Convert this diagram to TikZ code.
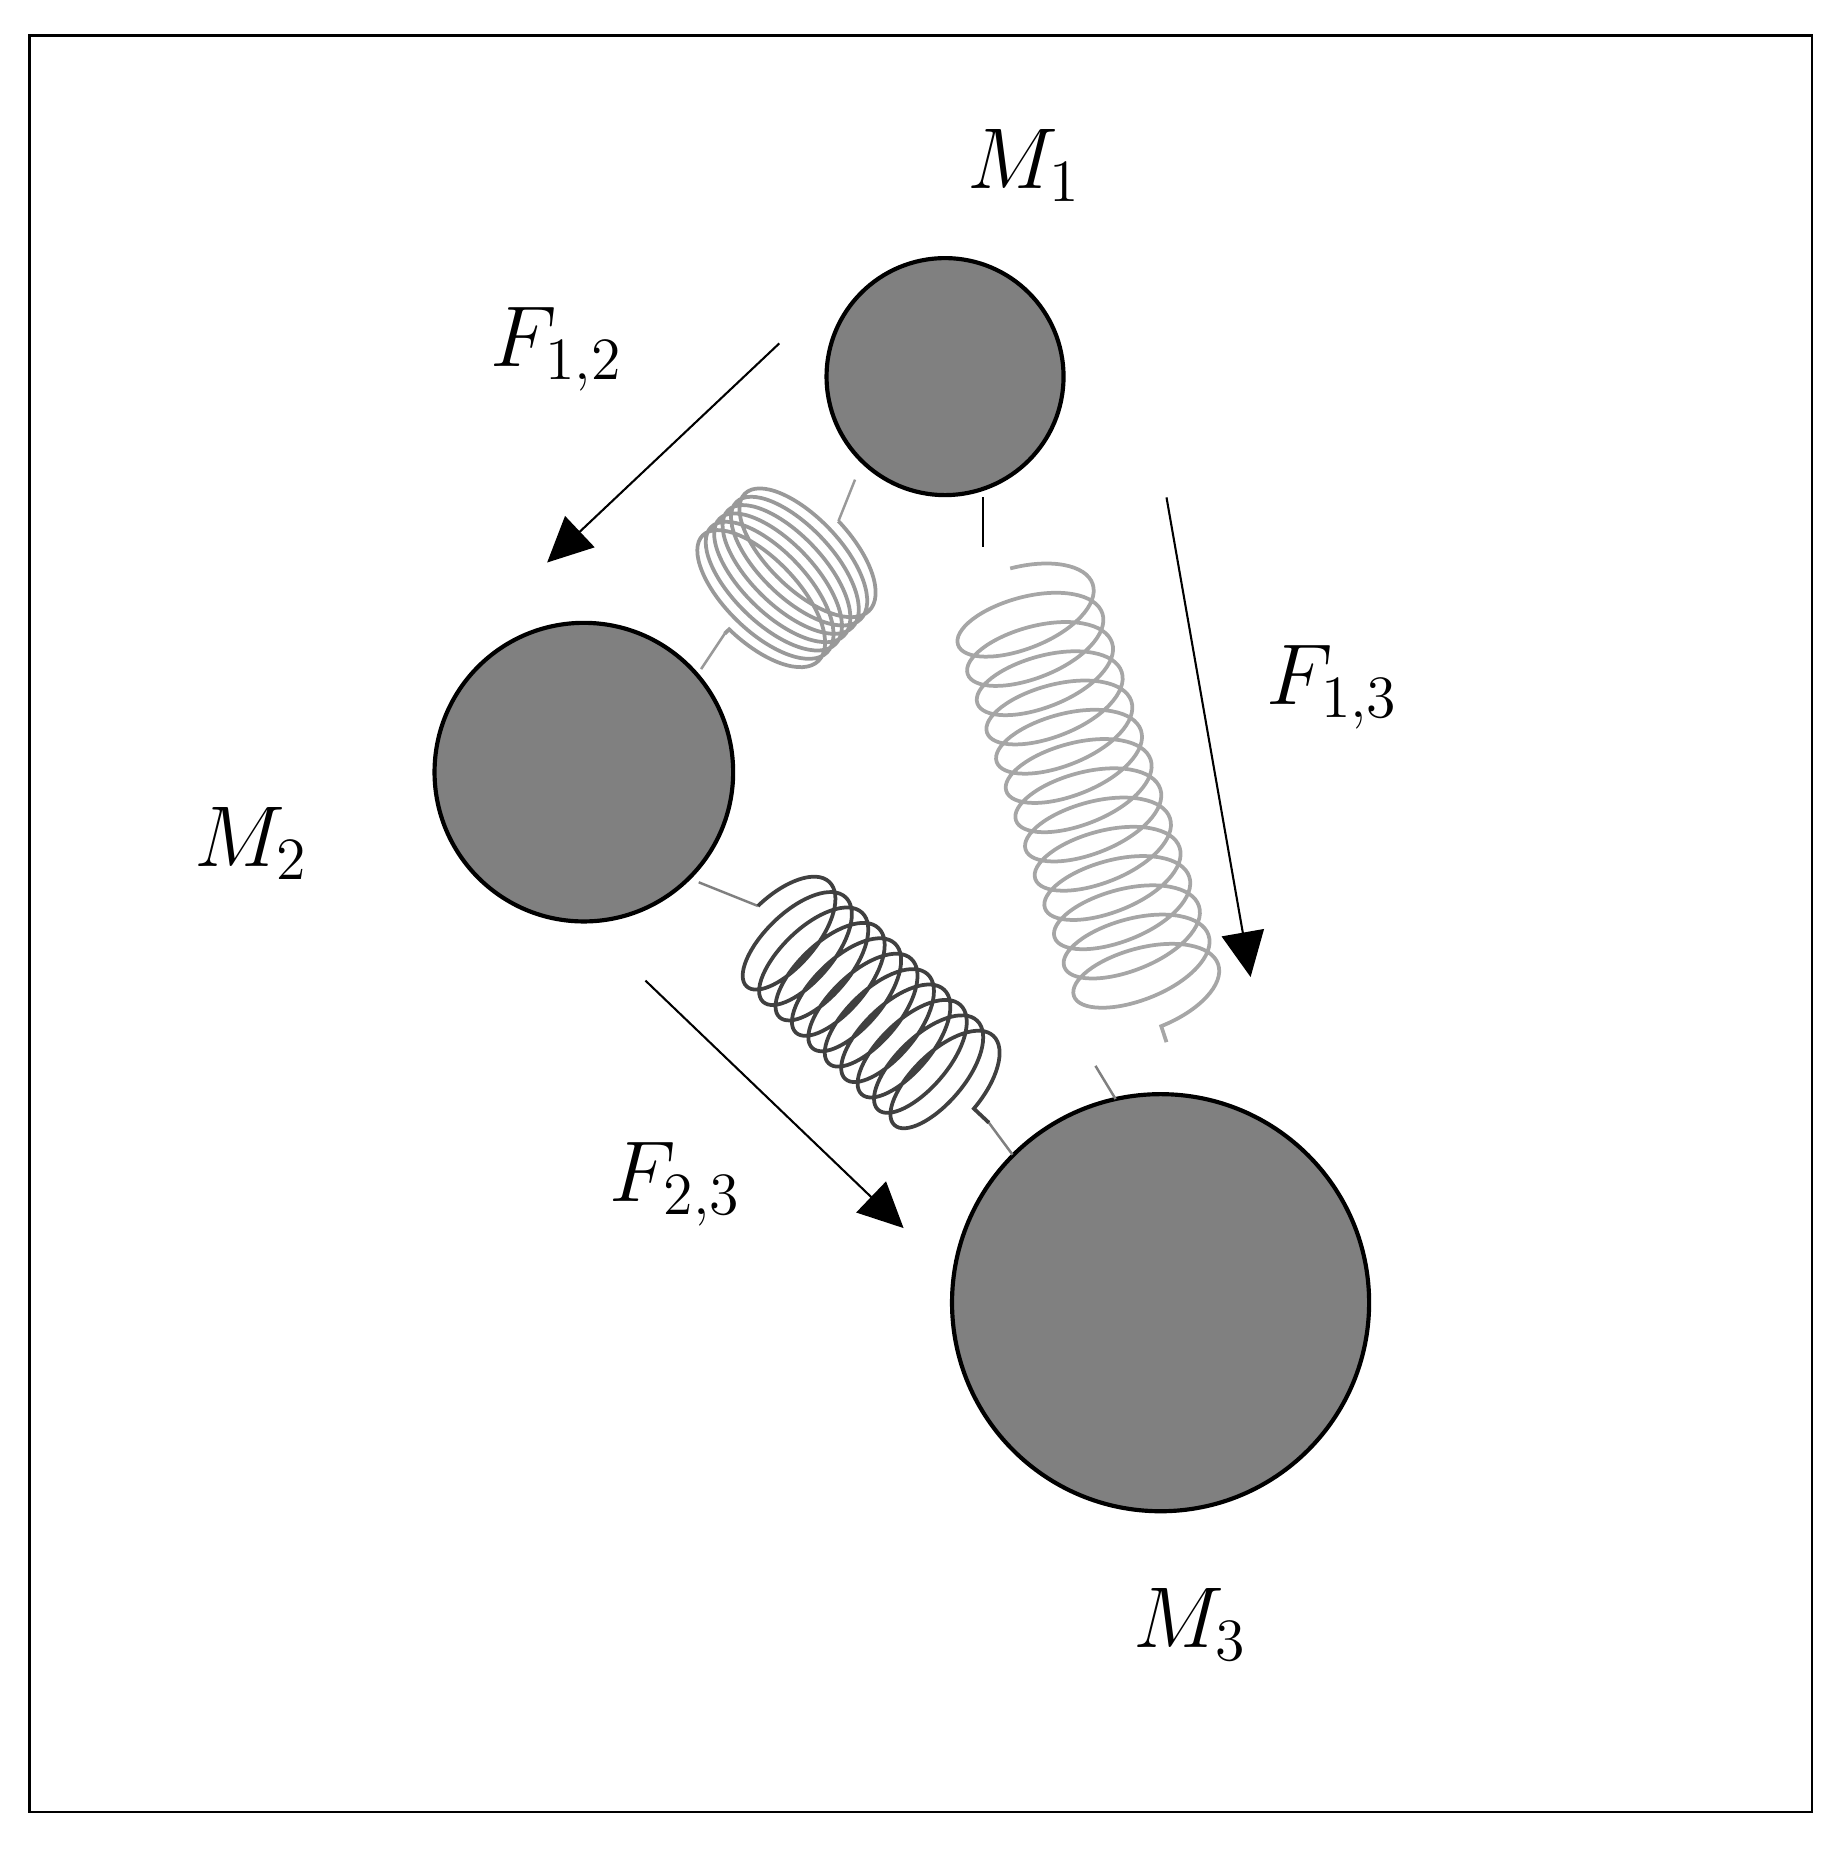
\documentclass[tikz,border=0pt]{standalone}
\usetikzlibrary{arrows.meta,decorations.pathmorphing}
\begin{document}
\begin{tikzpicture}[x=0.01cm,y=-0.01cm,
  mass/.style={circle,draw=black,line width=1pt,fill={rgb,255:red,128;green,128;blue,128},inner sep=0pt},
  force/.style={line width=0.5pt,-{Triangle[length=0.38cm,width=0.36cm]}},
  lbl/.style={font=\fontsize{22}{26}\selectfont},
  springc/.style={line width=0.9pt,decorate,decoration={coil,aspect=0.45,segment length=#1}}]
\useasboundingbox (0,0) rectangle (1560,1563);
\draw[line width=0.6pt] (25,30) rectangle (1530,1530);
\node[mass,minimum size=2.0cm] (m1) at (798,318) {};
\node[mass,minimum size=2.52cm] (m2) at (493,652) {};
\node[mass,minimum size=3.52cm] (m3) at (980,1100) {};
% spring 1-2
\coordinate (a1) at (722,405); \coordinate (a2) at (708,440);
\coordinate (a3) at (612,535); \coordinate (a4) at (592,565);
\draw[gray!80,line width=0.6pt] (a1) -- (a2) (a3) -- (a4);
\draw[gray!80,springc=0.1cm,decoration={amplitude=0.72cm}] (a2) -- (a3);
% spring 1-3
\coordinate (b1) at (830,420); \coordinate (b2) at (830,462);
\coordinate (b3) at (853,480); \coordinate (b4) at (985,880);
\coordinate (b5) at (925,900); \coordinate (b6) at (942,928);
\draw[line width=0.6pt] (b1) -- (b2);
\draw[gray!70,springc=0.26cm,decoration={amplitude=0.62cm}] (b3) -- (b4);
\draw[gray,line width=0.6pt] (b5) -- (b6);
% spring 2-3
\coordinate (c1) at (590,745); \coordinate (c2) at (640,765);
\coordinate (c3) at (835,948); \coordinate (c4) at (855,975);
\draw[gray,line width=0.6pt] (c1) -- (c2) (c3) -- (c4);
\draw[black!75,springc=0.19cm,decoration={amplitude=0.56cm}] (c2) -- (c3);
% forces
\coordinate (f1s) at (658,290); \coordinate (f1e) at (462,475);
\coordinate (f2s) at (985,420); \coordinate (f2e) at (1056,825);
\coordinate (f3s) at (545,828); \coordinate (f3e) at (763,1037);
\draw[force] (f1s) -- (f1e);
\draw[force] (f2s) -- (f2e);
\draw[force] (f3s) -- (f3e);
% labels
\node[lbl] (l1) at (865,140) {$M_1$};
\node[lbl] (l2) at (212,712) {$M_2$};
\node[lbl] (l3) at (1005,1372) {$M_3$};
\node[lbl] (l4) at (470,295) {$F_{1,2}$};
\node[lbl] (l5) at (1125,580) {$F_{1,3}$};
\node[lbl] (l6) at (570,1000) {$F_{2,3}$};
\end{tikzpicture}
\end{document}
